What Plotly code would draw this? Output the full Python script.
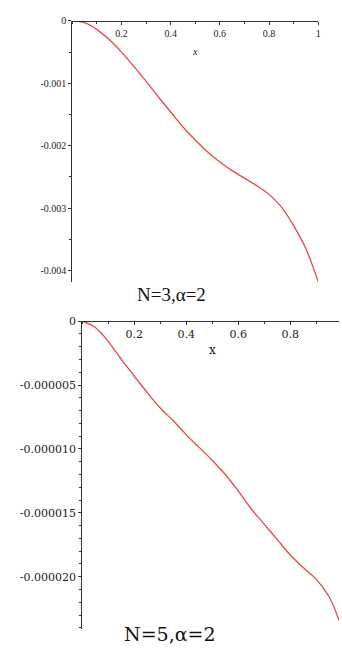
import plotly.graph_objects as go

# ---- data ----
x_top = [0, 0.05, 0.1, 0.15, 0.2, 0.25, 0.3, 0.35, 0.4, 0.45, 0.5, 0.55, 0.6,
         0.65, 0.7, 0.75, 0.8, 0.85, 0.9, 0.95, 1.0]
y_top = [0, -0.00003, -0.00014, -0.00030, -0.00050, -0.00073, -0.00097, -0.00122,
         -0.00146, -0.00170, -0.00191, -0.00210, -0.00226, -0.00240, -0.00252,
         -0.00264, -0.00278, -0.00298, -0.00328, -0.00365, -0.00418]

x_bot = [0, 0.05, 0.1, 0.15, 0.2, 0.25, 0.3, 0.35, 0.4, 0.45, 0.5, 0.55, 0.6,
         0.65, 0.7, 0.75, 0.8, 0.85, 0.9, 0.95, 0.987]
y_bot = [0, -0.5e-6, -1.6e-6, -3.0e-6, -4.3e-6, -5.6e-6, -6.8e-6, -7.8e-6, -8.9e-6,
         -9.9e-6, -10.9e-6, -12.0e-6, -13.3e-6, -14.7e-6, -15.9e-6, -17.1e-6,
         -18.3e-6, -19.3e-6, -20.2e-6, -21.6e-6, -23.4e-6]

top_xticks = [0.2, 0.4, 0.6, 0.8, 1]
top_xtext = ["0.2", "0.4", "0.6", "0.8", "1"]
top_yticks = [0, -0.001, -0.002, -0.003, -0.004]
top_ytext = ["0", "-0.001", "-0.002", "-0.003", "-0.004"]

bot_xticks = [0.2, 0.4, 0.6, 0.8]
bot_xtext = ["0.2", "0.4", "0.6", "0.8"]
bot_yticks = [0, -0.000005, -0.000010, -0.000015, -0.000020]
bot_ytext = ["0", "-0.000005", "-0.000010", "-0.000015", "-0.000020"]

cap_top = "N=3,α=2"
cap_bot = "N=5,α=2"

W, H = 342, 656
RED = "rgb(232,70,72)"
AX = "#333333"

fig = go.Figure()
fig.add_trace(go.Scatter(x=x_top, y=y_top, mode="lines", xaxis="x", yaxis="y",
                         line=dict(color=RED, width=1.3, shape="spline", smoothing=1.0),
                         showlegend=False, hoverinfo="skip"))
fig.add_trace(go.Scatter(x=x_bot, y=y_bot, mode="lines", xaxis="x2", yaxis="y2",
                         line=dict(color=RED, width=1.3, shape="spline", smoothing=1.0),
                         showlegend=False, hoverinfo="skip"))

top_dom_y = [1 - 278.3 / H, 1 - 15 / H]
bot_dom_y = [1 - 628.3 / H, 1 - 318 / H]

font_top = dict(family="Liberation Serif", size=10, color="#222")
font_bot = dict(family="DejaVu Serif", size=11, color="#222")

fig.update_layout(
    width=W, height=H, margin=dict(l=0, r=0, t=0, b=0),
    paper_bgcolor="white", plot_bgcolor="white",
    xaxis=dict(domain=[73 / W, 321 / W], range=[0, 1], anchor="free",
               position=top_dom_y[1], side="bottom",
               showline=True, linecolor=AX, linewidth=1, showgrid=False, zeroline=False,
               tickvals=top_xticks, ticktext=top_xtext, ticks="outside", ticklen=3,
               tickcolor=AX, tickfont=font_top,
               minor=dict(dtick=0.1, tick0=0, ticks="outside", ticklen=2, tickcolor=AX)),
    yaxis=dict(domain=top_dom_y, range=[-0.00418, 0], anchor="x",
               showline=True, linecolor=AX, linewidth=1, showgrid=False, zeroline=False,
               tickvals=top_yticks, ticktext=top_ytext, ticks="outside", ticklen=3,
               tickcolor=AX, tickfont=font_top, ticklabelstandoff=0,
               minor=dict(dtick=0.0005, tick0=0, ticks="outside", ticklen=2, tickcolor=AX)),
    xaxis2=dict(domain=[83 / W, 1], range=[0, 0.987], anchor="free",
                position=bot_dom_y[1], side="bottom",
                showline=True, linecolor=AX, linewidth=1, showgrid=False, zeroline=False,
                tickvals=bot_xticks, ticktext=bot_xtext, ticks="outside", ticklen=3,
                tickcolor=AX, tickfont=font_bot,
                minor=dict(dtick=0.1, tick0=0, ticks="outside", ticklen=2, tickcolor=AX)),
    yaxis2=dict(domain=bot_dom_y, range=[-24.05e-6, 0], anchor="x2",
                showline=True, linecolor=AX, linewidth=1, showgrid=False, zeroline=False,
                tickvals=bot_yticks, ticktext=bot_ytext, ticks="outside", ticklen=3,
                tickcolor=AX, tickfont=font_bot, ticklabelstandoff=0,
                minor=dict(dtick=1e-6, tick0=0, ticks="outside", ticklen=2, tickcolor=AX)),
    annotations=[
        dict(text="<i>x</i>", xref="x", x=0.5, yref="paper", y=1 - 38 / H,
             showarrow=False, font=dict(family="Liberation Serif", size=10, color="#222")),
        dict(text="x", xref="x2", x=0.5, yref="paper", y=1 - 347 / H,
             showarrow=False, font=dict(family="DejaVu Serif", size=12, color="#222")),
        dict(text=cap_top, xref="paper", x=173 / W, yref="paper", y=1 - 291 / H,
             showarrow=False, font=dict(family="Liberation Serif", size=19, color="#111")),
        dict(text=cap_bot, xref="paper", x=172 / W, yref="paper", y=1 - 647 / H,
             showarrow=False, font=dict(family="DejaVu Serif", size=19, color="#111")),
    ],
)

fig.write_html("out.html")
